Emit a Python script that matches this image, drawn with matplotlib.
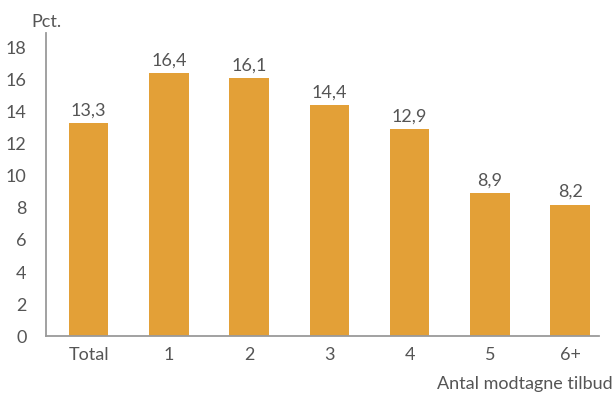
import matplotlib.pyplot as plt
import numpy as np

categories = ['Total', '1', '2', '3', '4', '5', '6+']
values = [13.3, 16.4, 16.1, 14.4, 12.9, 8.9, 8.2]
value_labels = ['13,3', '16,4', '16,1', '14,4', '12,9', '8,9', '8,2']
yticks = [0, 2, 4, 6, 8, 10, 12, 14, 16, 18]

bar_color = '#E3A037'
text_color = '#555555'
axis_color = '#9a9a9a'

plt.rcParams['font.family'] = ['Lato', 'DejaVu Sans']
fs = 13

fig = plt.figure(figsize=(6.15, 3.95), dpi=100)
ax = fig.add_axes([0.075, 0.149, 0.899, 0.767])

x = np.arange(len(categories))
ax.bar(x, values, width=0.49, color=bar_color, zorder=2)

for xi, v, lab in zip(x, values, value_labels):
    ax.text(xi, v + 0.3, lab, ha='center', va='bottom',
            fontsize=fs, color=text_color)

ax.set_xlim(-0.53, 6.36)
ax.set_ylim(0, 18.9)
ax.set_yticks(yticks)
ax.set_xticks(x)
ax.set_xticklabels(categories)

for side in ['top', 'right']:
    ax.spines[side].set_visible(False)
for side in ['left', 'bottom']:
    ax.spines[side].set_color(axis_color)
    ax.spines[side].set_linewidth(1.3)

ax.tick_params(axis='both', length=0, labelsize=fs, colors=text_color)
ax.tick_params(axis='y', pad=14)
ax.tick_params(axis='x', pad=8)

ax.text(0.0, 1.01, 'Pct.', transform=ax.transAxes, ha='center', va='bottom',
        fontsize=fs, color=text_color)
ax.text(1.024, -0.13, 'Antal modtagne tilbud', transform=ax.transAxes,
        ha='right', va='top', fontsize=fs, color=text_color)

fig.savefig('out.png', dpi=100)
